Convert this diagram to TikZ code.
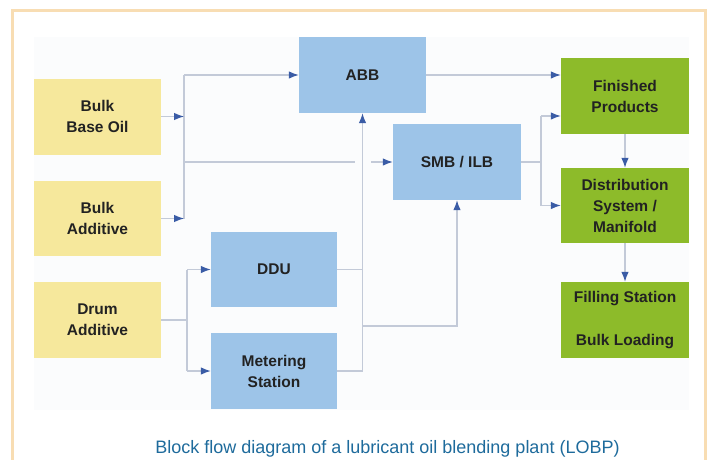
\documentclass[tikz,border=0pt]{standalone}
\usepackage{fontspec}
\setmainfont{Liberation Sans}
\usetikzlibrary{arrows.meta}
\definecolor{cframe}{HTML}{F8DDB3}
\definecolor{cpanel}{HTML}{FBFCFD}
\definecolor{cyel}{HTML}{F6E89C}
\definecolor{cblue}{HTML}{9DC4E8}
\definecolor{cgreen}{HTML}{8DBB2A}
\definecolor{cwire}{HTML}{C3CAD8}
\definecolor{ctip}{HTML}{3A5CA6}
\definecolor{ccap}{HTML}{1E6B9C}
\definecolor{ctxt}{HTML}{222222}
\begin{document}
\begin{tikzpicture}[x=1pt,y=-1pt,
  blk/.style={minimum width=127pt,minimum height=76pt,inner sep=0pt,align=center,
    text=ctxt,font=\bfseries\fontsize{15.5}{21}\selectfont},
  yblk/.style={blk,fill=cyel},
  bblk/.style={blk,fill=cblue},
  gblk/.style={blk,fill=cgreen},
  wire/.style={draw=cwire,line width=1.1pt},
  arr/.style={wire,-{Latex[length=10pt,width=7.5pt,color=ctip]}}
]
\useasboundingbox (0,0) rectangle (708,459);
\fill[white] (0,0) rectangle (708,459);
\fill[cpanel] (34,37) rectangle (689,410);
\draw[cframe,line width=3pt] (12.5,462) -- (12.5,10.5) -- (705.5,10.5) -- (705.5,462);

% boxes
\node[yblk] (bbo) at (97.5,116.5) {Bulk\\Base Oil};
\node[yblk,minimum height=75pt] (bad) at (97.5,218.5) {Bulk\\Additive};
\node[yblk] (dad) at (97.5,320) {Drum\\Additive};
\node[bblk] (abb) at (362.5,75) {ABB};
\node[bblk,minimum width=128pt] (smb) at (457,162) {SMB / ILB};
\node[bblk,minimum width=126pt,minimum height=75pt] (ddu) at (274,269.5) {DDU};
\node[bblk,minimum width=126pt] (met) at (274,371) {Metering\\Station};
\node[gblk,minimum width=128pt] (fin) at (625,96) {Finished\\Products};
\node[gblk,minimum width=128pt,minimum height=75pt] (dis) at (625,205.5) {Distribution\\System /\\Manifold};
\node[gblk,minimum width=128pt] (fil) at (625,320) {Filling Station\\[22pt]Bulk Loading};

% left bus
\coordinate (b1top) at (184,75);
\coordinate (b1bot) at (184,218.5);
\draw[wire] (b1top) -- (b1bot);
\draw[arr] (bbo.east) -- (bbo.east -| b1top);
\draw[arr] (bad.east) -- (bad.east -| b1top);
\draw[arr] (b1top) -- (abb.west);
\coordinate (gapL) at (355,162);
\coordinate (gapR) at (371,162);
\draw[wire] (b1top |- smb.west) -- (gapL);
\draw[arr] (gapR) -- (smb.west);

% drum bus
\coordinate (b2top) at (187,269.5);
\coordinate (b2bot) at (187,371);
\draw[wire] (dad.east) -- (dad.east -| b2top);
\draw[wire] (b2top) -- (b2bot);
\draw[arr] (b2top) -- (ddu.west);
\draw[arr] (b2bot) -- (met.west);

% DDU / metering collector
\coordinate (c3bot) at (abb.south |- met.east);
\coordinate (j1) at (362.5,326);
\draw[arr] (c3bot) -- (abb.south);
\draw[wire] (ddu.east) -- (ddu.east -| c3bot);
\draw[wire] (met.east) -- (c3bot);
\draw[arr] (j1) -| (smb.south);

% right side
\draw[arr] (abb.east) -- (abb.east -| fin.west);
\coordinate (b4mid) at (541,162);
\coordinate (b4top) at (541,116);
\coordinate (b4bot) at (541,205.5);
\draw[wire] (smb.east) -- (b4mid);
\draw[wire] (b4top) -- (b4bot);
\draw[arr] (b4top) -- (b4top -| fin.west);
\draw[arr] (b4bot) -- (dis.west);
\draw[arr] (fin.south) -- (dis.north);
\draw[arr] (dis.south) -- (fil.north);

% caption
\node[anchor=base,text=ccap,font=\fontsize{18}{20}\selectfont,inner sep=0pt] (caption) at (387.5,453)
  {Block flow diagram of a lubricant oil blending plant (LOBP)};
\end{tikzpicture}
\end{document}
